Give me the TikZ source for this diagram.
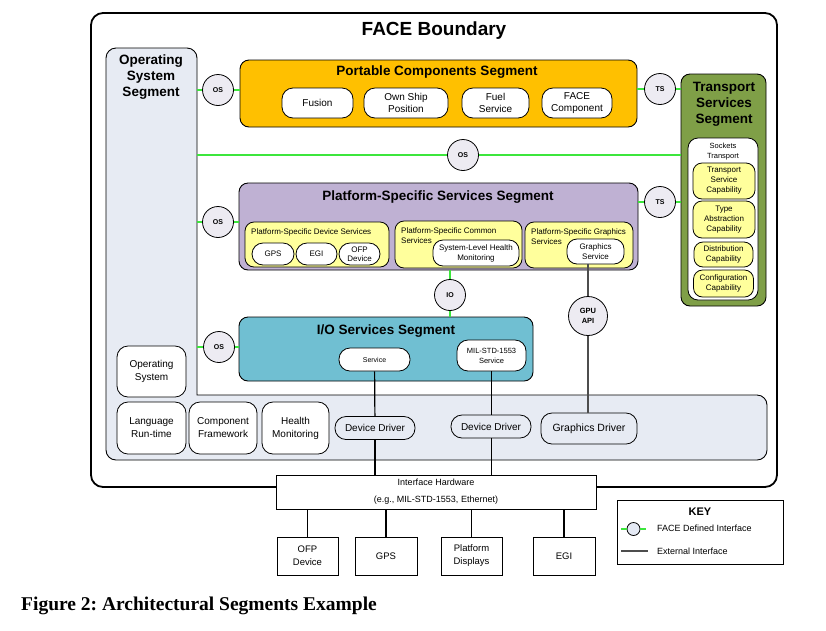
\documentclass[tikz,border=0pt]{standalone}
\usepackage{fontspec}
\setmainfont{Liberation Sans}
\newfontfamily\capfont{Liberation Serif}
\newcommand{\myfs}[2]{\fontsize{#1}{#2}\selectfont}
\frenchspacing
\definecolor{osfill}{HTML}{E7EBF3}
\definecolor{pcsorange}{HTML}{FFC000}
\definecolor{pssspurple}{HTML}{BFB1D3}
\definecolor{iosteal}{HTML}{70BFD2}
\definecolor{tssgreen}{HTML}{7F9F47}
\definecolor{capyellow}{HTML}{FFFF9C}
\definecolor{circfill}{HTML}{EDEBF2}
\definecolor{keyfill}{HTML}{E4E9F4}
\definecolor{ifgreen}{HTML}{3CE63C}
\definecolor{gpugray}{HTML}{4D4D4D}
\tikzset{
  seg/.style={draw=black, line width=0.9pt, rounded corners=9pt, inner sep=0pt},
  segtitle/.style={font=\bfseries\myfs{13.5}{16}, align=center, inner sep=0pt},
  wbox/.style={draw, fill=white, line width=0.8pt, rounded corners=11pt, align=center, inner sep=0pt},
  ybox/.style={draw, fill=capyellow, line width=0.8pt, rounded corners=9pt, align=center, inner sep=0pt},
  sbox/.style={draw, fill=white, line width=0.8pt, align=center, inner sep=0pt},
  iface/.style={circle, draw, fill=circfill, line width=0.8pt, minimum size=31pt, inner sep=0pt, font=\bfseries\myfs{7}{9}, align=center},
  gline/.style={draw=ifgreen, line width=1.6pt},
  xline/.style={draw=black, line width=1.2pt},
  gpuline/.style={draw=gpugray, line width=1.6pt},
  lbl/.style={inner sep=0pt, align=left},
}
\begin{document}
\begin{tikzpicture}[x=1pt,y=-1pt]
\useasboundingbox (0,0) rectangle (826,630);
\fill[white] (0,0) rectangle (826,630);

% FACE boundary
\node[draw, line width=1.8pt, rounded corners=12pt, minimum width=686pt, minimum height=474pt, inner sep=0pt] (face) at (434,250) {};
\node[font=\bfseries\myfs{19}{22}, inner sep=0pt] (facet) at (434,31) {FACE Boundary};

% Operating System Segment shape
\draw[fill=osfill, line width=0.9pt] (106,300) [rounded corners=10pt] -- (106,48) -- (197,48) -- (197,200) [sharp corners] -- (197,395) -- (400,395) [rounded corners=10pt] -- (767,395) -- (767,460) -- (106,460) -- cycle;
\node[segtitle] (osst) at (151,77) {Operating\\System\\Segment};

% Portable Components Segment
\node[seg, fill=pcsorange, minimum width=397pt, minimum height=67pt] (pcs) at (438.5,93.5) {};
\node[segtitle] (pcst) at (437,72) {Portable Components Segment};
\node[wbox, minimum width=71pt, minimum height=30pt, font=\myfs{10}{12}] (fusion) at (317.5,103) {Fusion};
\node[wbox, minimum width=84pt, minimum height=30pt, font=\myfs{10}{12}] (osp) at (406,103) {Own Ship\\Position};
\node[wbox, minimum width=67pt, minimum height=30pt, font=\myfs{10}{12}] (fuel) at (495.5,103) {Fuel\\Service};
\node[wbox, minimum width=70pt, minimum height=30pt, font=\myfs{10}{12}] (facec) at (577,103) {FACE\\Component};

% Transport Services Segment
\node[seg, fill=tssgreen, minimum width=85pt, minimum height=232pt] (tss) at (723.5,190) {};
\node[segtitle] (tsst) at (724,104) {Transport\\Services\\Segment};
\node[wbox, rounded corners=10pt, minimum width=70pt, minimum height=162pt] (sock) at (723,219) {};
\node[lbl, align=center, font=\myfs{7.5}{10}] (sockt) at (723,152) {Sockets\\Transport};
\node[ybox, minimum width=62pt, minimum height=36pt, font=\myfs{8}{10}] (tsc) at (724,181) {Transport\\Service\\Capability};
\node[ybox, minimum width=62pt, minimum height=37pt, font=\myfs{8}{10}] (tac) at (724,219.5) {Type\\Abstraction\\Capability};
\node[ybox, minimum width=59pt, minimum height=25pt, font=\myfs{8}{10}] (dc) at (723.5,254.5) {Distribution\\Capability};
\node[ybox, minimum width=60pt, minimum height=27pt, font=\myfs{8}{10}] (cc) at (723.5,283.5) {Configuration\\Capability};

% Platform-Specific Services Segment
\node[seg, fill=pssspurple, minimum width=399pt, minimum height=87pt] (psss) at (438.5,226.5) {};
\node[segtitle] (pssst) at (438,197) {Platform-Specific Services Segment};
\node[ybox, minimum width=144pt, minimum height=45pt] (pdev) at (317,244.5) {};
\node[lbl, anchor=west, font=\myfs{8}{10}] (pdevt) at (251,232) {Platform-Specific Device Services};
\node[wbox, minimum width=42pt, minimum height=22pt, font=\myfs{8}{9}] (gps1) at (273,254) {GPS};
\node[wbox, minimum width=41pt, minimum height=22pt, font=\myfs{8}{9}] (egi1) at (316.5,254) {EGI};
\node[wbox, minimum width=41pt, minimum height=22pt, font=\myfs{8}{9.5}] (ofp1) at (359.5,254) {OFP\\Device};
\node[ybox, minimum width=127pt, minimum height=47pt] (pcom) at (458.5,244.5) {};
\node[lbl, anchor=west, font=\myfs{8}{10}] (pcomt) at (401,236) {Platform-Specific Common\\Services};
\node[wbox, rounded corners=10pt, minimum width=86pt, minimum height=26pt, font=\myfs{8}{10}] (slhm) at (476,253) {System-Level Health\\Monitoring};
\node[ybox, minimum width=108pt, minimum height=46pt] (pgr) at (579,245) {};
\node[lbl, anchor=west, font=\myfs{8}{10}] (pgrt) at (531,237) {Platform-Specific Graphics\\Services};
\node[wbox, rounded corners=10pt, minimum width=57pt, minimum height=25pt, font=\myfs{8}{10}] (gsvc) at (595.5,251.5) {Graphics\\Service};

% I/O Services Segment
\node[seg, fill=iosteal, minimum width=294pt, minimum height=64pt] (ioss) at (386,349) {};
\node[segtitle] (iosst) at (386,331) {I/O Services Segment};
\node[wbox, minimum width=71pt, minimum height=23pt, font=\myfs{7}{9}] (svc) at (374.5,359.5) {Service};
\node[wbox, minimum width=69pt, minimum height=31pt, font=\myfs{7.5}{10}] (mil) at (491.5,355.5) {MIL-STD-1553\\Service};

% bottom band of the OS segment
\node[wbox, minimum width=69pt, minimum height=51pt, font=\myfs{10}{13}] (osn) at (151.5,371.5) {Operating\\System};
\node[wbox, minimum width=69pt, minimum height=52pt, font=\myfs{10}{13}] (lrt) at (151.5,428) {Language\\Run-time};
\node[wbox, minimum width=68pt, minimum height=52pt, font=\myfs{10}{13}] (cfw) at (223,428) {Component\\Framework};
\node[wbox, minimum width=67pt, minimum height=52pt, font=\myfs{10}{13}] (hm) at (295.5,428) {Health\\Monitoring};
\node[wbox, fill=osfill, minimum width=80pt, minimum height=23pt, font=\myfs{10}{12}] (dd1) at (375,428) {Device Driver};
\node[wbox, fill=osfill, minimum width=80pt, minimum height=23pt, font=\myfs{10}{12}] (dd2) at (491,426.5) {Device Driver};
\node[wbox, fill=osfill, minimum width=96pt, minimum height=31pt, font=\myfs{10.5}{12}] (gdrv) at (589,428.5) {Graphics Driver};

% interfaces
\node[iface] (os1) at (218,90) {OS};
\node[iface] (os2) at (463,155) {OS};
\node[iface] (os3) at (218,222) {OS};
\node[iface] (os4) at (219,347) {OS};
\node[iface] (ts1) at (660,89) {TS};
\node[iface] (ts2) at (660,202) {TS};
\node[iface] (io) at (450,295) {IO};
\node[iface, minimum size=39pt, font=\bfseries\myfs{7.5}{10}] (gpu) at (588,316) {GPU\\API};

\coordinate (ose1) at (197,90);
\coordinate (ose2) at (197,155);
\coordinate (ose3) at (197,222);
\coordinate (ose4) at (197,347);

\draw[gline] (ose1) -- (os1) -- (os1 -| pcs.west);
\draw[gline] (ose2) -- (os2) -- (os2 -| tss.west);
\draw[gline] (ose3) -- (os3) -- (os3 -| psss.west);
\draw[gline] (ose4) -- (os4) -- (os4 -| ioss.west);
\draw[gline] (ts1 -| pcs.east) -- (ts1) -- (ts1 -| tss.west);
\draw[gline] (ts2 -| psss.east) -- (ts2) -- (ts2 -| tss.west);
\draw[gline] (io |- psss.south) -- (io) -- (io |- ioss.north);
\draw[gpuline] (gpu |- gsvc.south) -- (gpu) -- (gpu |- gdrv.north);

% Interface hardware and devices
\node[sbox, minimum width=320pt, minimum height=34pt] (ih) at (436,492) {};
\node[lbl, font=\myfs{9}{11}] (iht1) at (436,482) {Interface Hardware};
\node[lbl, font=\myfs{9}{11}] (iht2) at (436,500) {(e.g., MIL-STD-1553, Ethernet)};
\node[sbox, minimum width=61pt, minimum height=38pt, font=\myfs{9.5}{13}] (ofp2) at (307.5,556) {OFP\\Device};
\node[sbox, minimum width=62pt, minimum height=38pt, font=\myfs{9.5}{13}] (gps2) at (386,556) {GPS};
\node[sbox, minimum width=61pt, minimum height=38pt, font=\myfs{9.5}{13}] (pd) at (471.5,556) {Platform\\Displays};
\node[sbox, minimum width=62pt, minimum height=38pt, font=\myfs{9.5}{13}] (egi2) at (564,556) {EGI};

\draw[xline] (svc) -- (dd1);
\draw[xline] (dd1) -- (dd1 |- ih.north);
\draw[xline] (mil) -- (mil |- dd2.north);
\draw[xline] (mil |- dd2.south) -- (mil |- ih.north);
\draw[xline] (ofp2 |- ih.south) -- (ofp2);
\draw[xline] (gps2 |- ih.south) -- (gps2);
\draw[xline] (pd |- ih.south) -- (pd);
\draw[xline] (egi2 |- ih.south) -- (egi2);

% Key
\node[sbox, minimum width=166pt, minimum height=64pt] (key) at (700,532) {};
\node[font=\bfseries\myfs{11}{13}, inner sep=0pt] (keyt) at (700,512) {KEY};
\coordinate (k1a) at (621,529);
\coordinate (k1b) at (646,529);
\node[iface, minimum size=13pt, fill=keyfill] (kc) at (633.5,529) {};
\draw[gline, line width=1.2pt] (k1a) -- (kc) -- (k1b);
\node[lbl, anchor=west, font=\myfs{9}{11}] (kt1) at (657,528) {FACE Defined Interface};
\coordinate (k2a) at (621,551);
\coordinate (k2b) at (648,551);
\draw[gpuline, line width=1.3pt] (k2a) -- (k2b);
\node[lbl, anchor=west, font=\myfs{9}{11}] (kt2) at (657,551) {External Interface};

% caption
\node[lbl, anchor=west, font=\capfont\bfseries\myfs{19.5}{22}] (cap) at (21,606) {Figure 2: Architectural Segments Example};
\end{tikzpicture}
\end{document}
